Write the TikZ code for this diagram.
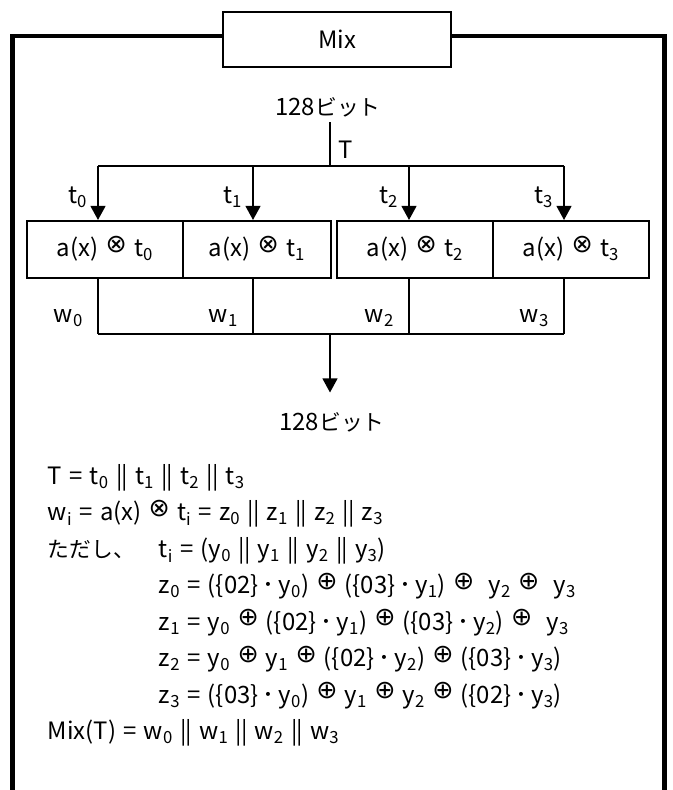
\documentclass[tikz,border=0pt]{standalone}
\usepackage{fontspec}
\setmainfont{Noto Sans CJK JP}
\newfontfamily\symfont{DejaVu Sans}
\usetikzlibrary{arrows.meta}

\newcommand{\sub}[1]{\textsubscript{#1}}
\newcommand{\jp}[1]{{\fontsize{15.5}{18}\selectfont #1}}
\newcommand{\otim}{\raisebox{0.35ex}{\symfont\fontsize{18}{18}\selectfont ⊗}}
\newcommand{\opls}{\raisebox{0.35ex}{\symfont\fontsize{18}{18}\selectfont ⊕}}
\newcommand{\cat}{|\kern-0.04em|}
\newcommand{\mdot}{\,･\,}
\newcommand{\widespace}{\spaceskip=0.3em\relax}

\begin{document}
\begin{tikzpicture}[font=\fontsize{17}{20}\selectfont\widespace, line width=1.4pt,
  arr/.style={-{Triangle[width=10.5pt,length=10pt]}},
  mulbox/.style={draw, minimum height=1.425cm, inner sep=0pt, text height=1.3em, text depth=0.25em},
  eqline/.style={anchor=base west, inner sep=0pt}]
  \useasboundingbox (0,0) rectangle (16.8,19.75);
  % outer frame, open at the bottom
  \draw[line width=3.5pt] (0.3125,-0.3) -- (0.3125,18.85) -- (16.61,18.85) -- (16.61,-0.3);
  \node[draw, fill=white, minimum width=5.7cm, minimum height=1.375cm] (mix) at (8.425,18.7625) {Mix};

  % input word, split into four columns
  \node (inbits) at (8.2,17.075) {128\jp{ビット}};
  \coordinate (split) at (8.25,15.6);
  \coordinate (join) at (8.25,11.4);
  \draw (split |- inbits.south) -- (split);
  \node[anchor=west, inner sep=0pt] (T) at (8.45,16.0) {T};

  \node[mulbox, minimum width=3.9cm] (b0) at (2.625,13.5125) {a(x) \otim\ t\sub{0}};
  \node[mulbox, minimum width=3.7cm] (b1) at (6.425,13.5125) {a(x) \otim\ t\sub{1}};
  \node[mulbox, minimum width=3.9cm] (b2) at (10.375,13.5125) {a(x) \otim\ t\sub{2}};
  \node[mulbox, minimum width=3.9cm] (b3) at (14.275,13.5125) {a(x) \otim\ t\sub{3}};

  \foreach \i/\x in {0/2.45, 1/6.325, 2/10.225, 3/14.1} {
    \coordinate (top\i) at (\x,15.6);
    \coordinate (bot\i) at (\x,11.4);
    \draw[arr] (top\i) -- (b\i.north -| top\i);
    \draw (b\i.south -| bot\i) -- (bot\i);
    \node[anchor=east, inner sep=0pt] (t\i) at ({\x-0.25},14.825) {t\sub{\i}};
    \node[anchor=east, inner sep=0pt] (w\i) at ({\x-0.35},11.8) {w\sub{\i}};
  }
  \draw (top0) -- (top3);
  \draw (bot0) -- (bot3);

  % output word
  \node (outbits) at (8.3,9.2) {128\jp{ビット}};
  \draw[arr] (join) -- ([yshift=0.35cm]join |- outbits.north);

  % definitions
  \node[eqline] (eqT) at (1.175,7.6375) {T = t\sub{0} \cat{} t\sub{1} \cat{} t\sub{2} \cat{} t\sub{3}};
  \node[eqline] (eqW) at (1.175,6.725) {w\sub{i} = a(x) \otim\ t\sub{i} = z\sub{0} \cat{} z\sub{1} \cat{} z\sub{2} \cat{} z\sub{3}};
  \node[eqline] (note) at (1.175,5.8125) {\jp{ただし、}};
  \node[eqline] (eqTi) at (3.95,5.8125) {t\sub{i} = (y\sub{0} \cat{} y\sub{1} \cat{} y\sub{2} \cat{} y\sub{3})};
  \node[eqline] (eqZ0) at (3.95,4.9) {z\sub{0} = (\{02\}\mdot y\sub{0}) \opls\ (\{03\}\mdot y\sub{1}) \opls\ \ y\sub{2} \opls\ \ y\sub{3}};
  \node[eqline] (eqZ1) at (3.95,3.9875) {z\sub{1} = y\sub{0} \opls\ (\{02\}\mdot y\sub{1}) \opls\ (\{03\}\mdot y\sub{2}) \opls\ \ y\sub{3}};
  \node[eqline] (eqZ2) at (3.95,3.075) {z\sub{2} = y\sub{0} \opls\ y\sub{1} \opls\ (\{02\}\mdot y\sub{2}) \opls\ (\{03\}\mdot y\sub{3})};
  \node[eqline] (eqZ3) at (3.95,2.1625) {z\sub{3} = (\{03\}\mdot y\sub{0}) \opls\ y\sub{1} \opls\ y\sub{2} \opls\ (\{02\}\mdot y\sub{3})};
  \node[eqline] (eqMix) at (1.175,1.25) {Mix(T) = w\sub{0} \cat{} w\sub{1} \cat{} w\sub{2} \cat{} w\sub{3}};
\end{tikzpicture}
\end{document}
